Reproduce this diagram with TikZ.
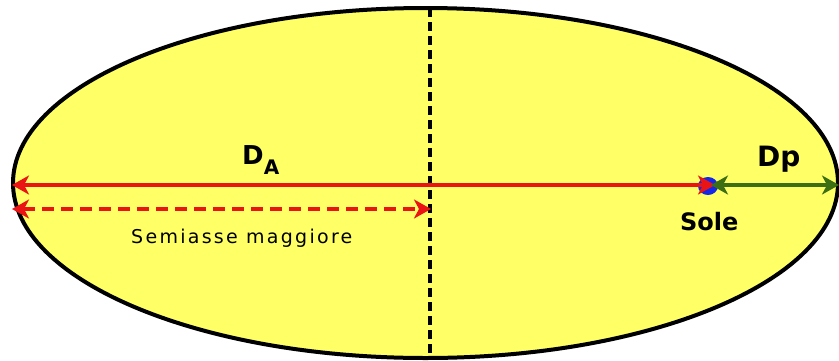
\documentclass[tikz,border=0pt]{standalone}
\usepackage{fontspec}
\setmainfont{DejaVu Sans}
\usetikzlibrary{arrows.meta,shapes.geometric}
\definecolor{orbfill}{RGB}{255,255,102}
\definecolor{redline}{RGB}{235,20,20}
\definecolor{greenline}{RGB}{60,110,20}
\definecolor{sunblue}{RGB}{20,40,230}
\tikzset{
  orbit/.style={draw=black,line width=4pt,fill=orbfill},
  axisline/.style={draw=black,line width=3.2pt,dash pattern=on 9pt off 5pt},
  redarrow/.style={draw=redline,line width=4pt,{Stealth[length=17pt,width=19pt,inset=5pt]}-{Stealth[length=17pt,width=19pt,inset=5pt]}},
  reddash/.style={draw=redline,line width=4pt,dash pattern=on 12pt off 7pt,{Stealth[length=17pt,width=19pt,inset=5pt]}-{Stealth[length=17pt,width=19pt,inset=5pt]}},
  greenarrow/.style={draw=greenline,line width=4pt,{Stealth[length=17pt,width=19pt,inset=5pt]}-{Stealth[length=17pt,width=19pt,inset=5pt]}},
  lbl/.style={text=black, inner sep=0pt}
}
\begin{document}
\begin{tikzpicture}[x=1pt,y=-1pt]
\useasboundingbox (0,0) rectangle (839,360);
\fill[white] (0,0) rectangle (839,360);
\draw[orbit] (425.5,183) ellipse [x radius=412.5, y radius=175];
\coordinate (top) at (430,8);
\coordinate (bottom) at (430,360);
\draw[axisline] (top) -- (bottom);
\coordinate (left) at (12,185);
\coordinate (leftb) at (12,209);
\coordinate (center) at (431,209);
\coordinate (right) at (839,185);
\node[ellipse,fill=sunblue,minimum width=20pt,minimum height=18pt,inner sep=0pt] (sun) at (708,186) {};
\coordinate (redtip) at (715,185);
\coordinate (greentip) at (711,185);
\draw[redarrow] (left) -- (redtip);
\draw[reddash] (leftb) -- (center);
\draw[greenarrow] (greentip) -- (right);
\node[lbl,anchor=base west,font=\bfseries\fontsize{26}{30}\selectfont] (da) at (242,164) {D\raisebox{-10pt}{\fontsize{20}{24}\selectfont A}};
\node[lbl,anchor=base west,font=\bfseries\fontsize{28}{32}\selectfont] (dp) at (757,166) {Dp};
\node[lbl,anchor=base west,font=\bfseries\fontsize{24}{28}\selectfont] (sole) at (680,230) {Sole};
\node[lbl,anchor=base west,font=\fontsize{19}{22}\selectfont\addfontfeatures{LetterSpace=12}] (semi) at (131,243) {Semiasse maggiore};
\end{tikzpicture}
\end{document}
